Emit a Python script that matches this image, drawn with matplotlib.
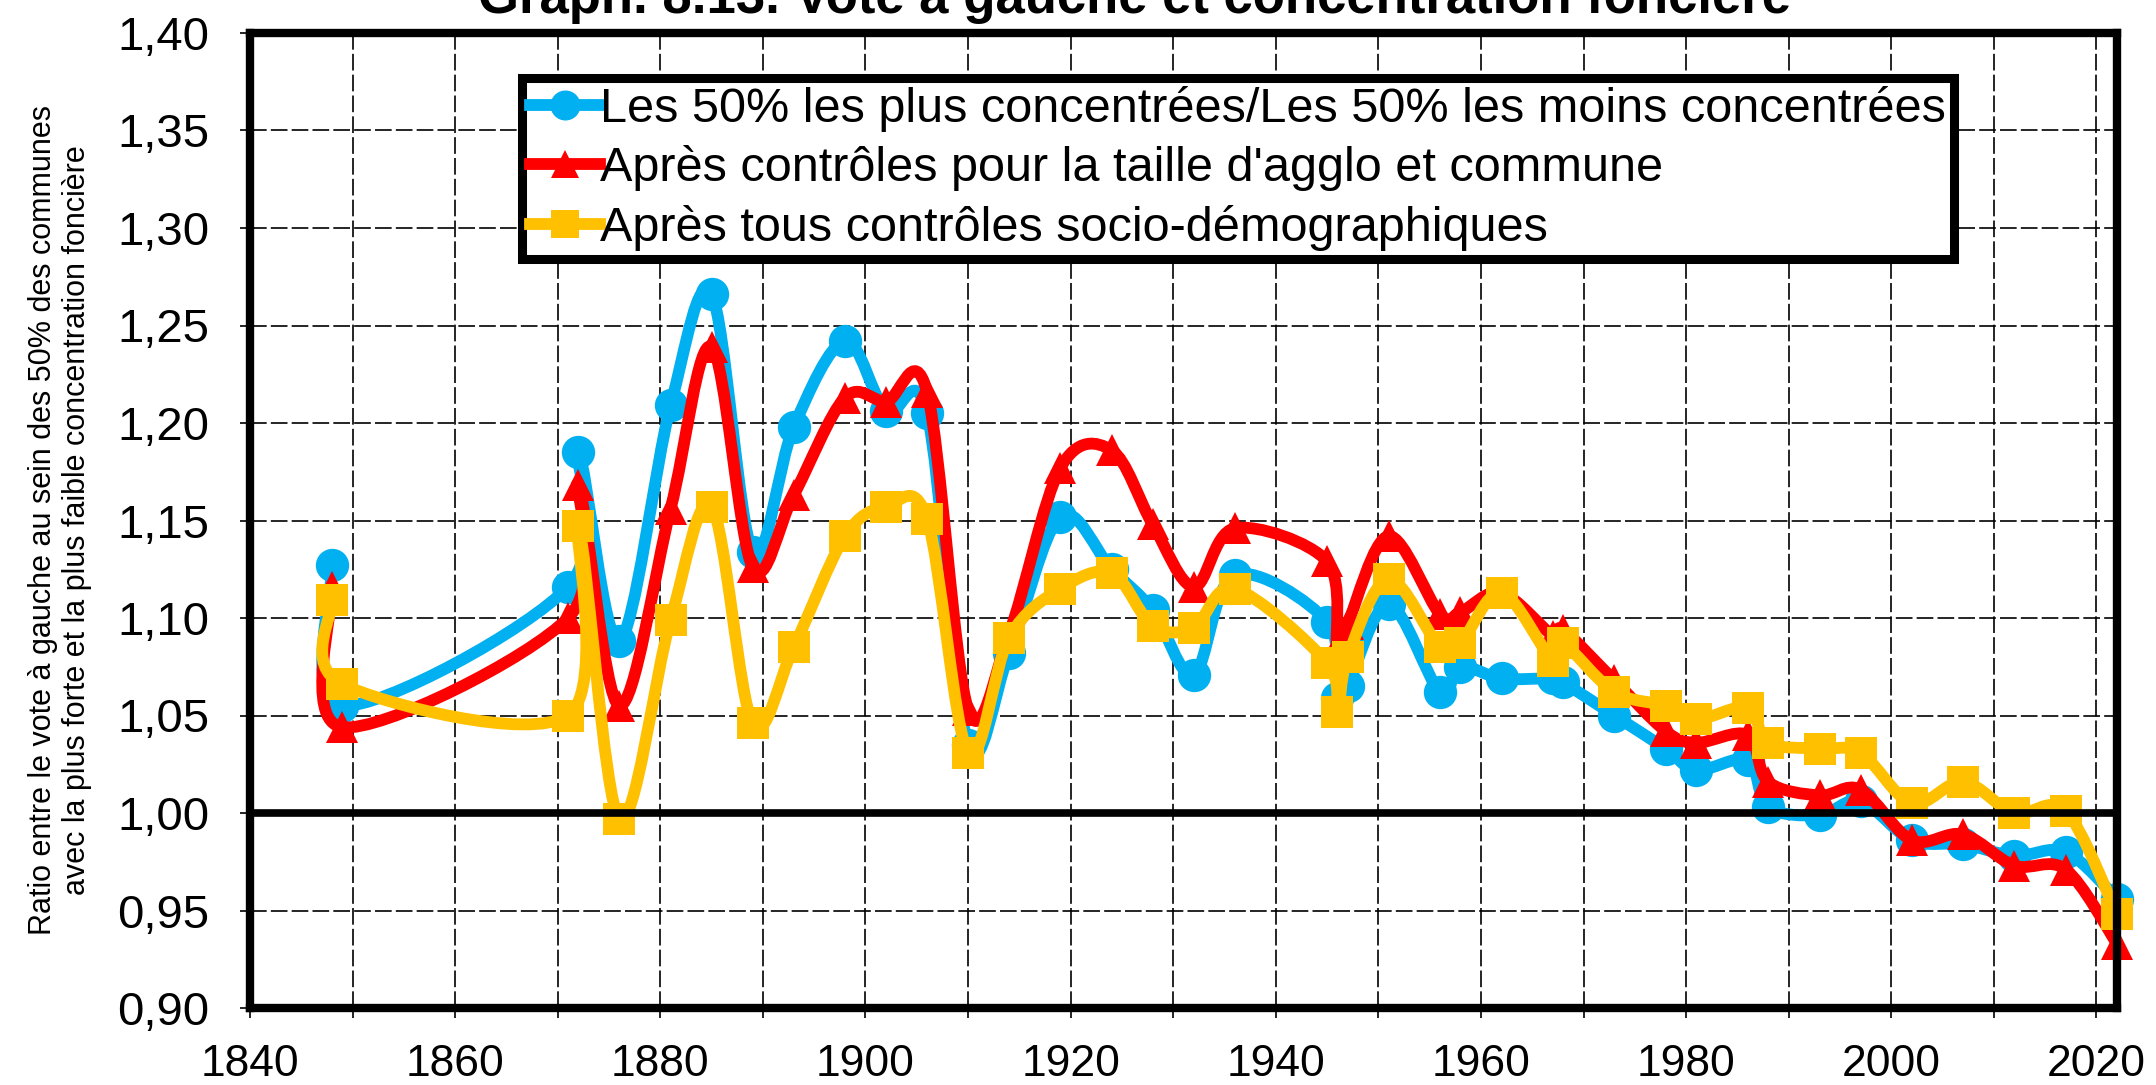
import matplotlib
matplotlib.use("Agg")
import matplotlib.pyplot as plt
from matplotlib import font_manager
from matplotlib.path import Path
from matplotlib.patches import PathPatch
from matplotlib.lines import Line2D
from matplotlib.ticker import MultipleLocator, FuncFormatter

# dates des élections
years = [1848, 1849, 1871, 1872, 1876, 1881, 1885, 1889, 1893, 1898,
         1902, 1906, 1910, 1914, 1919, 1924, 1928, 1932, 1936, 1945,
         1946, 1947, 1951, 1956, 1958, 1962, 1967, 1968, 1973, 1978,
         1981, 1986, 1988, 1993, 1997, 2002, 2007, 2012, 2017, 2022]

# Les 50% les plus concentrées / les 50% les moins concentrées
brut = [1.127, 1.055, 1.116, 1.185, 1.088, 1.209, 1.266, 1.134, 1.198, 1.242,
        1.206, 1.205, 1.035, 1.082, 1.152, 1.125, 1.104, 1.071, 1.122, 1.098,
        1.059, 1.065, 1.107, 1.062, 1.075, 1.069, 1.069, 1.067, 1.050, 1.033,
        1.022, 1.027, 1.003, 0.999, 1.006, 0.986, 0.984, 0.978, 0.980, 0.956]

# après contrôles taille d'agglo et commune
ctrl_taille = [1.116, 1.044, 1.100, 1.168, 1.055, 1.156, 1.239, 1.126, 1.163, 1.213,
               1.211, 1.216, 1.053, 1.092, 1.177, 1.186, 1.148, 1.116, 1.146, 1.129,
               1.085, 1.097, 1.142, 1.102, 1.103, 1.113, 1.091, 1.094, 1.068, 1.042,
               1.036, 1.040, 1.016, 1.009, 1.012, 0.986, 0.989, 0.973, 0.971, 0.933]

# après tous contrôles socio-démographiques
ctrl_tous = [1.109, 1.066, 1.050, 1.147, 0.997, 1.099, 1.157, 1.046, 1.085, 1.142,
             1.157, 1.151, 1.031, 1.090, 1.115, 1.123, 1.096, 1.095, 1.115, 1.077,
             1.052, 1.080, 1.120, 1.085, 1.087, 1.113, 1.078, 1.087, 1.062, 1.055,
             1.048, 1.054, 1.036, 1.033, 1.031, 1.005, 1.016, 1.000, 1.001, 0.948]

labels = ["Les 50% les plus concentrées/Les 50% les moins concentrées",
          "Après contrôles pour la taille d'agglo et commune",
          "Après tous contrôles socio-démographiques"]
colors = ["#00B0F0", "#FF0000", "#FFC000"]
markers = ["o", "^", "s"]
msizes = [24, 23, 23]

names = {f.name for f in font_manager.fontManager.ttflist}
narrow = "Liberation Sans Narrow" if "Liberation Sans Narrow" in names else "Liberation Sans"
plt.rcParams["font.family"] = ["Liberation Sans", "DejaVu Sans"]


def smooth_path(xs, ys):
    # lissage facon Excel : bezier cubique passant par chaque point
    pts = list(zip(xs, ys))
    n = len(pts)
    verts = [pts[0]]
    codes = [Path.MOVETO]
    for i in range(n - 1):
        p0 = pts[i - 1] if i > 0 else pts[i]
        p1 = pts[i]
        p2 = pts[i + 1]
        p3 = pts[i + 2] if i + 2 < n else pts[i + 1]
        c1 = (p1[0] + (p2[0] - p0[0]) / 6, p1[1] + (p2[1] - p0[1]) / 6)
        c2 = (p2[0] - (p3[0] - p1[0]) / 6, p2[1] - (p3[1] - p1[1]) / 6)
        verts += [c1, c2, p2]
        codes += [Path.CURVE4] * 3
    return Path(verts, codes)


fig = plt.figure(figsize=(21.56, 10.85), dpi=100)
ax = fig.add_axes([250 / 2156, 77 / 1085, 1867 / 2156, 975 / 1085])

series = [brut, ctrl_taille, ctrl_tous]
for k, vals in enumerate(series):
    patch = PathPatch(smooth_path(years, vals), fill=False, edgecolor=colors[k],
                      lw=8.5, joinstyle="round", capstyle="round", zorder=3 + k)
    ax.add_patch(patch)
    ax.plot(years, vals, ls="none", marker=markers[k], ms=msizes[k],
            color=colors[k], mec=colors[k], mew=0, zorder=3 + k, clip_on=False)

ax.axhline(1.0, color="black", lw=5.5, zorder=7)

ax.set_xlim(1840, 2022)
ax.set_ylim(0.90, 1.40)
ax.xaxis.set_major_locator(MultipleLocator(20))
ax.xaxis.set_minor_locator(MultipleLocator(10))
ax.yaxis.set_major_locator(MultipleLocator(0.05))
ax.yaxis.set_major_formatter(FuncFormatter(lambda v, p: f"{v:.2f}".replace(".", ",")))

grid_kw = dict(color="black", lw=1.2, ls=(0, (10, 2.5)))
ax.grid(True, which="both", axis="x", **grid_kw)
ax.grid(True, which="major", axis="y", **grid_kw)
ax.set_axisbelow(True)

ax.tick_params(axis="both", which="both", direction="out", length=7, width=1.2,
               color="black")
ax.tick_params(axis="x", pad=19, labelsize=32)
ax.tick_params(axis="y", pad=22, labelsize=34)

for s in ax.spines.values():
    s.set_linewidth(6)
    s.set_zorder(8)

handles = [Line2D([], [], color=colors[k], lw=8.5, marker=markers[k],
                  ms=msizes[k] * 0.9, mew=0) for k in range(3)]
leg = ax.legend(handles, labels, loc="upper left", bbox_to_anchor=(0.1457, 0.954),
                fontsize=35, frameon=True, fancybox=False, edgecolor="black",
                framealpha=1, handlelength=1.45, handletextpad=0.0, borderpad=0.16,
                labelspacing=0.28, borderaxespad=0, numpoints=1)
leg.get_frame().set_linewidth(6.5)
leg.set_zorder(10)

fig.text(60 / 2156, 1 - 520 / 1085,
         "Ratio entre le vote à gauche au sein des 50% des communes\n"
         "avec la plus forte et la plus faible concentration foncière",
         rotation=90, ha="center", va="center", multialignment="center",
         fontsize=22, family=narrow, linespacing=1.15)

fig.text(1134 / 2156, 1 - 13 / 1085,
         "Graph. 8.13. Vote à gauche et concentration foncière",
         ha="center", va="baseline", fontsize=38, fontweight="bold", family=narrow)

fig.savefig("out.png", dpi=100)
